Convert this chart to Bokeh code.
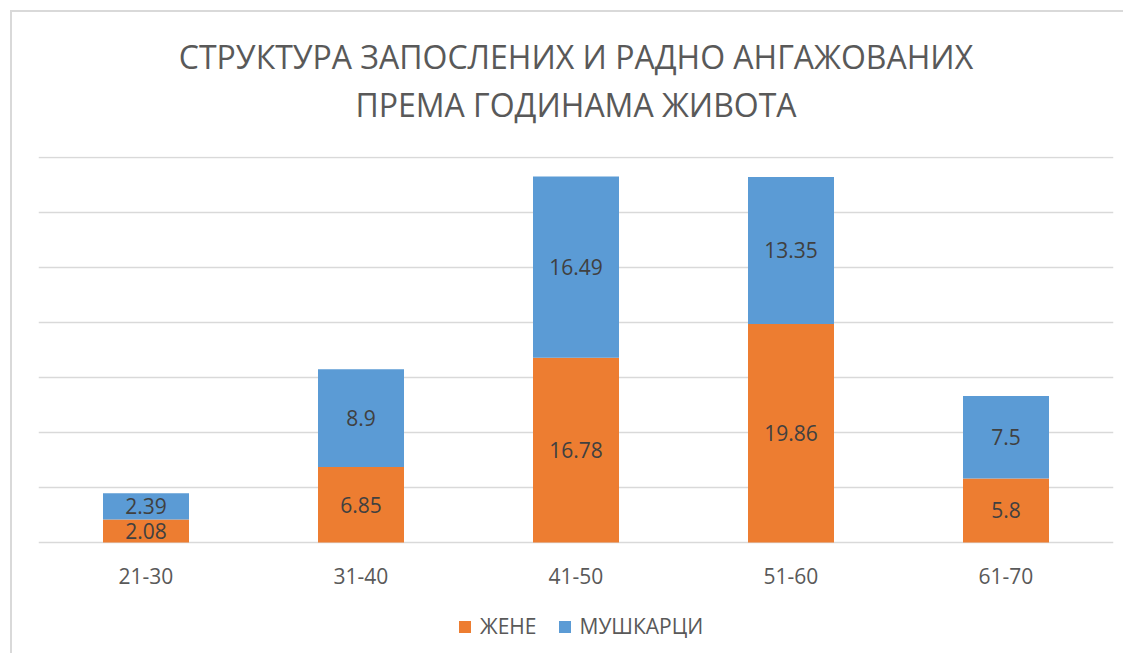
from bokeh.plotting import figure
from bokeh.models import ColumnDataSource, LabelSet, Legend, LegendItem, Title, FixedTicker
from bokeh.core.properties import value
from bokeh.embed import file_html
from bokeh.resources import INLINE

categories = ["21-30", "31-40", "41-50", "51-60", "61-70"]
zene = [2.08, 6.85, 16.78, 19.86, 5.8]
muskarci = [2.39, 8.9, 16.49, 13.35, 7.5]
series_names = ["ЖЕНЕ", "МУШКАРЦИ"]
title_lines = ["СТРУКТУРА ЗАПОСЛЕНИХ И РАДНО АНГАЖОВАНИХ", "ПРЕМА ГОДИНАМА ЖИВОТА"]
grid_ticks = [0, 5, 10, 15, 20, 25, 30, 35]

ORANGE = "#ED7D31"
BLUE = "#5B9BD5"
FONT = "Open Sans"

src = ColumnDataSource(dict(
    cat=categories, zene=zene, muskarci=muskarci,
    base=[0] * len(categories),
    zene_mid=[z / 2 for z in zene],
    musk_mid=[z + m / 2 for z, m in zip(zene, muskarci)],
    zene_lbl=[str(v) for v in zene],
    musk_lbl=[str(v) for v in muskarci],
))

# frame extends below zero so the category labels and legend sit inside it
p = figure(x_range=categories, y_range=(-10.1, 35.08), frame_width=1075, frame_height=497,
           output_backend="svg", toolbar_location=None, title=None,
           min_border_left=26, min_border_right=10, min_border_top=144, min_border_bottom=0)
p.margin = (10, 0, 0, 10)
p.x_range.range_padding = 0
p.styles = {"border-top": "2px solid #D9D9D9", "border-left": "2px solid #D9D9D9"}

renderers = p.vbar_stack(["zene", "muskarci"], x="cat", width=0.4, source=src,
                         color=[ORANGE, BLUE], line_color=None)

for col, lbl in (("zene_mid", "zene_lbl"), ("musk_mid", "musk_lbl")):
    p.add_layout(LabelSet(x="cat", y=col, text=lbl, source=src, text_align="center",
                          text_baseline="middle", text_font=value(FONT), text_font_size="21px",
                          text_color="#404040"))

# category labels under the baseline
p.add_layout(LabelSet(x="cat", y="base", text="cat", source=src, text_align="center",
                      text_baseline="middle", y_offset=-34, text_font=value(FONT),
                      text_font_size="21px", text_color="#595959"))

p.xaxis.visible = False
p.yaxis.visible = False
p.ygrid.ticker = FixedTicker(ticks=grid_ticks)
p.ygrid.grid_line_color = "#D9D9D9"
p.ygrid.grid_line_width = 1.5
p.xgrid.grid_line_color = None
p.outline_line_color = None

legend = Legend(items=[LegendItem(label=series_names[0], renderers=[renderers[0]]),
                       LegendItem(label=series_names[1], renderers=[renderers[1]])],
                orientation="horizontal", location=(419, 13),
                label_text_font=FONT, label_text_font_size="21px", label_text_color="#595959",
                border_line_color=None, background_fill_alpha=0,
                glyph_width=15, glyph_height=15, label_height=21, spacing=20, label_standoff=8,
                margin=0, padding=0)
p.add_layout(legend, "center")

# title: spacer nearest to the frame, then line 2, then line 1
p.add_layout(Title(text=" ", text_font_size="10px", standoff=18), "above")
p.add_layout(Title(text=title_lines[1], align="center", text_font=FONT, text_font_size="32px",
                   text_font_style="normal", text_color="#595959", standoff=0), "above")
p.add_layout(Title(text=title_lines[0], align="center", text_font=FONT, text_font_size="32px",
                   text_font_style="normal", text_color="#595959", standoff=5), "above")

open("out.html", "w").write(file_html(p, INLINE))
